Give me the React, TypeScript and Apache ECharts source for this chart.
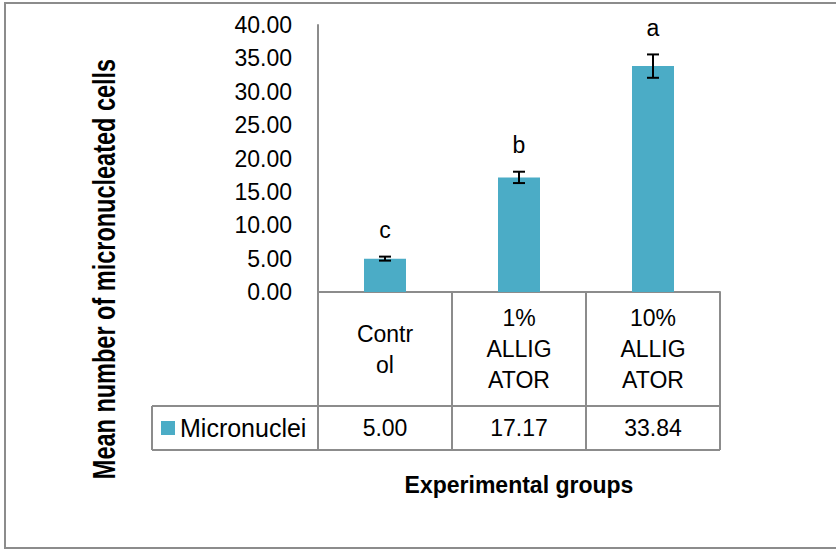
import React, { useEffect, useRef } from "react";
import * as echarts from "echarts";

const categories = ["Contr\nol", "1%\nALLIG\nATOR", "10%\nALLIG\nATOR"];
const seriesName = "Micronuclei";
const values = [5.0, 17.17, 33.84];
const errors = [0.3, 0.85, 1.75];
const letters = ["c", "b", "a"];
const yTicks = { min: 0, max: 40, interval: 5 };
const yTitle = "Mean number of micronucleated cells";
const xTitle = "Experimental groups";

const FONT = "'Liberation Sans', Arial, sans-serif";
const BAR = "#4BACC6";
const GRID_LINE = "#8c8c8c";

export default function App() {
  const ref = useRef<HTMLDivElement>(null);
  useEffect(() => {
    if (!ref.current) return;
    const chart = echarts.init(ref.current, null, { renderer: "svg" });
    const option: any = {
      animation: false,
      textStyle: { fontFamily: FONT, color: "#000" },
      grid: { left: 318, right: 116, top: 25, bottom: 258, outerBoundsMode: "none" },
      legend: {
        data: [seriesName],
        left: 156,
        top: 409,
        icon: "rect",
        itemWidth: 14,
        itemHeight: 14,
        textStyle: { fontSize: 25, color: "#000", fontFamily: FONT, lineHeight: 28 },
      },
      xAxis: [
        {
          type: "category",
          data: categories,
          position: "bottom",
          axisLine: { show: true, lineStyle: { color: GRID_LINE, width: 2 } },
          axisTick: { show: true, length: 158, lineStyle: { color: GRID_LINE, width: 2 } },
          axisLabel: {
            fontSize: 23,
            lineHeight: 31,
            color: "#000",
            margin: 57,
            verticalAlign: "middle",
            interval: 0,
          },
          name: xTitle,
          nameLocation: "middle",
          nameGap: 181,
          nameTextStyle: { fontSize: 23, fontWeight: "bold", color: "#000", fontFamily: FONT },
        },
        {
          type: "category",
          data: categories,
          position: "bottom",
          gridIndex: 0,
          offset: 0,
          axisLine: { show: false },
          axisTick: { show: false },
          axisLabel: {
            fontSize: 23,
            color: "#000",
            margin: 136,
            verticalAlign: "middle",
            interval: 0,
            formatter: (_v: string, idx: number) => values[idx].toFixed(2),
          },
        },
      ],
      yAxis: {
        type: "value",
        min: yTicks.min,
        max: yTicks.max,
        interval: yTicks.interval,
        axisLine: { show: true, lineStyle: { color: GRID_LINE, width: 2 } },
        axisTick: { show: false },
        splitLine: { show: false },
        axisLabel: {
          fontSize: 23,
          color: "#000",
          margin: 26,
          formatter: (v: number) => v.toFixed(2),
        },
      },
      series: [
        {
          name: seriesName,
          type: "bar",
          data: values,
          barWidth: 42,
          itemStyle: { color: BAR },
        },
        {
          type: "custom",
          data: values.map((v, i) => [i, v, errors[i]]),
          encode: { x: 0, y: 1 },
          z: 10,
          renderItem: (_params: any, api: any) => {
            const i = api.value(0);
            const v = api.value(1);
            const e = api.value(2);
            const top = api.coord([i, v + e]);
            const bot = api.coord([i, v - e]);
            const x = top[0];
            const hw = 6;
            const st = { stroke: "#000", lineWidth: 2 };
            return {
              type: "group",
              children: [
                { type: "line", shape: { x1: x, y1: top[1], x2: x, y2: bot[1] }, style: st },
                { type: "line", shape: { x1: x - hw, y1: top[1], x2: x + hw, y2: top[1] }, style: st },
                { type: "line", shape: { x1: x - hw, y1: bot[1], x2: x + hw, y2: bot[1] }, style: st },
                {
                  type: "text",
                  x: x,
                  y: top[1] - 15,
                  style: {
                    text: letters[i],
                    align: "center",
                    verticalAlign: "bottom",
                    fontSize: 23,
                    fontFamily: FONT,
                    fill: "#000",
                  },
                },
              ],
            };
          },
        },
      ],
      graphic: [
        {
          type: "rect",
          shape: { x: 5, y: 3, width: 845, height: 545 },
          style: { fill: "none", stroke: GRID_LINE, lineWidth: 2 },
          silent: true,
        },
        {
          type: "line",
          shape: { x1: 152, y1: 406, x2: 720, y2: 406 },
          style: { stroke: GRID_LINE, lineWidth: 2 },
        },
        {
          type: "line",
          shape: { x1: 152, y1: 450, x2: 720, y2: 450 },
          style: { stroke: GRID_LINE, lineWidth: 2 },
        },
        {
          type: "line",
          shape: { x1: 152, y1: 406, x2: 152, y2: 450 },
          style: { stroke: GRID_LINE, lineWidth: 2 },
        },
        {
          type: "text",
          x: 104,
          y: 269,
          rotation: Math.PI / 2,
          scaleY: 1.35,
          style: {
            text: yTitle,
            align: "center",
            verticalAlign: "middle",
            fontSize: 23.5,
            fontWeight: "bold",
            fontFamily: FONT,
            fill: "#000",
          },
        },
      ],
    };
    chart.setOption(option);
    return () => chart.dispose();
  }, []);
  return (
    <div
      ref={ref}
      style={{ position: "fixed", left: 0, top: 0, width: 836, height: 550, background: "#fff" }}
    />
  );
}
